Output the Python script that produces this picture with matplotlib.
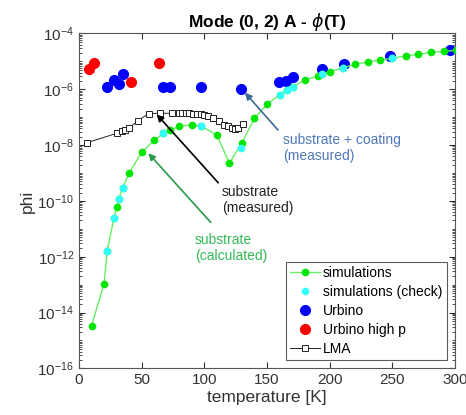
import numpy as np
import matplotlib
matplotlib.use('Agg')
import matplotlib.pyplot as plt
from matplotlib.ticker import LogLocator, NullFormatter

plt.rcParams['font.family'] = ['Liberation Sans', 'DejaVu Sans']

# simulations (line goes through all computed points)
sim_T = [10, 20, 22.6, 27.9, 30, 31.9, 34.8, 40, 50, 60, 67.3, 73, 80, 90, 97.3,
         110, 120, 130, 140, 150, 160, 165.6, 171, 180, 190.6, 194, 200, 211,
         220, 230.7, 240, 250, 260.7, 270.5, 281, 291.5, 301]
sim_log = [-14.47, -12.97, -11.78, -10.6, -10.23, -9.92, -9.53, -9.0, -8.26, -7.83,
           -7.58, -7.46, -7.32, -7.28, -7.32, -7.64, -8.65, -7.91, -7.04, -6.54,
           -6.2, -6.04, -5.9, -5.67, -5.52, -5.45, -5.37, -5.23, -5.1, -5.02,
           -4.95, -4.89, -4.8, -4.75, -4.67, -4.64, -4.6]

# simulations (check)
chk_T = [22.6, 27.9, 31.9, 34.8, 67.3, 97.3, 129.2, 160, 165.6, 171, 194, 211, 250]
chk_log = [-11.78, -10.6, -9.92, -9.53, -7.58, -7.32, -8.09, -6.2, -6.04, -5.9,
           -5.45, -5.23, -4.89]

# Urbino
urb_T = [22.6, 27.9, 31.9, 34.8, 67.3, 73, 97, 129.2, 159.7, 165, 171, 194,
         211.5, 248.5, 296.4]
urb_log = [-5.93, -5.67, -5.82, -5.46, -5.93, -5.91, -5.91, -5.99, -5.73, -5.69,
           -5.57, -5.28, -5.08, -4.8, -4.59]

# Urbino high p
hp_T = [8.2, 11.9, 41.7, 64]
hp_log = [-5.26, -5.07, -5.73, -5.05]

# LMA
lma_T = [6.6, 30, 34, 37, 39.5, 47, 55.5, 65, 74, 79.5, 82, 85, 88, 91, 94, 97,
         100, 103, 107, 112, 115.5, 119, 122, 124.5, 127, 130.5]
lma_log = [-7.91, -7.58, -7.5, -7.45, -7.4, -7.13, -6.87, -6.86, -6.86, -6.86,
           -6.86, -6.86, -6.86, -6.87, -6.88, -6.9, -6.93, -6.96, -7.04, -7.15,
           -7.27, -7.33, -7.39, -7.42, -7.39, -7.23]

p = lambda a: 10.0 ** np.array(a)

fig = plt.figure(figsize=(4.66, 4.15), dpi=100)
ax = fig.add_axes([79 / 466, 1 - 368.3 / 415, 376 / 466, 334.8 / 415])

ax.plot(sim_T, p(sim_log), '-o', color='#66ee66', mfc='#00e600', mec='#00e600',
        ms=4.5, lw=1, label='simulations', zorder=3)
ax.plot(chk_T, p(chk_log), 'o', color='#33ffff', mec='#33ffff', ms=4.5,
        label='simulations (check)', zorder=4)
ax.plot(urb_T, p(urb_log), 'o', color='#0000ff', ms=7, label='Urbino', zorder=2)
ax.plot(hp_T, p(hp_log), 'o', color='#ff0000', ms=7, label='Urbino high p', zorder=2)
ax.plot(lma_T, p(lma_log), '-s', color='#222222', mfc='white', mec='#222222',
        ms=4, mew=0.7, lw=0.7, label='LMA', zorder=2)

ax.set_yscale('log')
ax.set_xlim(0, 300)
ax.set_ylim(1e-16, 1e-4)
ax.set_xticks([0, 50, 100, 150, 200, 250, 300])
ax.yaxis.set_major_locator(LogLocator(base=100))
ax.yaxis.set_minor_locator(LogLocator(base=10, subs=np.arange(1, 10), numticks=100))
ax.yaxis.set_minor_formatter(NullFormatter())
ax.tick_params(which='both', direction='in', top=True, right=True, colors='#333333',
               labelsize=11)
ax.tick_params(which='major', length=4)
ax.tick_params(which='minor', length=2)
for s in ax.spines.values():
    s.set_color('#555555')
    s.set_linewidth(0.8)

ax.set_xlabel('temperature [K]', fontsize=12.5, color='#333333', labelpad=2)
ax.set_ylabel('phi', fontsize=12.5, color='#333333', labelpad=2)
ax.set_title(r'Mode (0, 2) A - $\phi$(T)', fontsize=12.5, fontweight='bold', pad=5)

# annotation arrows (tail -> head) and their texts
arrows = [
    ((158.8, -7.46), (132.4, -6.12), '#3c6a98'),
    ((111.1, -9.35), (62.0, -6.9), 'black'),
    ((105.1, -10.77), (55.3, -8.29), '#2a9a4a'),
]
for (tx, tl), (hx, hl), c in arrows:
    ax.annotate('', xy=(hx, 10 ** hl), xytext=(tx, 10 ** tl),
                arrowprops=dict(arrowstyle='-|>', color=c, lw=1.2,
                                shrinkA=0, shrinkB=0, mutation_scale=10))

ax.text(162.8, 10 ** -8.1, 'substrate + coating\n(measured)', fontsize=10,
        color='#4f78b8', ha='left', va='center')
ax.text(114, 10 ** -9.97, 'substrate\n(measured)', fontsize=10,
        color='#222222', ha='left', va='center')
ax.text(92.6, 10 ** -11.69, 'substrate\n(calculated)', fontsize=10,
        color='#33bb55', ha='left', va='center')

leg = ax.legend(loc='lower right', fontsize=10, frameon=True, fancybox=False,
                edgecolor='#333333', borderpad=0.3, labelspacing=0.35,
                handlelength=2.2, handletextpad=0.2, borderaxespad=0.6)
leg.get_frame().set_linewidth(0.8)

fig.savefig('out.png', dpi=100)
